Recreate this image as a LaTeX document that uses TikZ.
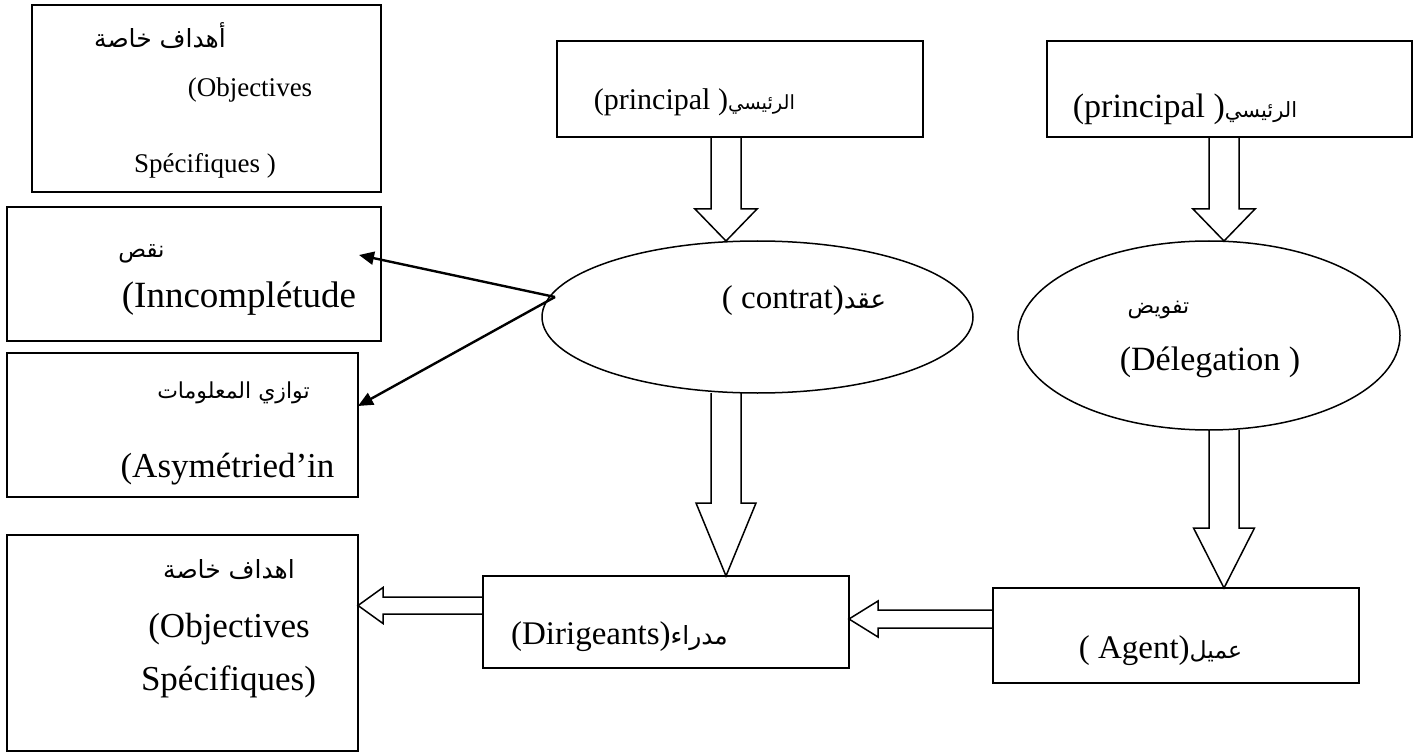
\documentclass[tikz,border=0pt]{standalone}
\usepackage{fontspec}
\setmainfont{Liberation Serif}
\newfontfamily\arabicfont[Script=Arabic]{DejaVu Sans}
\TeXXeTstate=1
\usetikzlibrary{shapes.geometric,arrows.meta,calc}

% font size shortcut
\newcommand\sz[1]{\fontsize{#1}{#1}\selectfont}

% wide hollow arrow: #1 start, #2 tip, #3 shaft half width, #4 head half width, #5 head length
\newcommand\hollowarrow[5]{%
  \coordinate (hb) at ($(#2)!#5!(#1)$);
  \draw[blockline] ($(#1)!#3!90:(#2)$) -- ($(hb)!#3!90:(#2)$) -- ($(hb)!#4!90:(#2)$)
    -- (#2) -- ($(hb)!#4!-90:(#2)$) -- ($(hb)!#3!-90:(#2)$) -- ($(#1)!#3!-90:(#2)$);
}

\begin{document}
\begin{tikzpicture}[x=1pt,y=-1pt,
  box/.style={draw, line width=1.5pt, rectangle, inner sep=0pt, outer sep=0pt},
  oval/.style={draw, line width=1.5pt, ellipse, inner sep=0pt, outer sep=0pt},
  txt/.style={inner sep=0pt, outer sep=0pt, anchor=base},
  blockline/.style={line width=1.5pt},
  thinarrow/.style={line width=2.4pt, -{Triangle[length=15pt,width=13pt]}}]

\useasboundingbox (0,0) rectangle (1419,754);

% boxes and ovals
\node[box, minimum width=349pt, minimum height=187pt] (obj1) at (206.5,98.5) {};
\node[box, minimum width=374pt, minimum height=134pt] (inc) at (194,274) {};
\node[box, minimum width=351pt, minimum height=144pt] (asy) at (182.5,425) {};
\node[box, minimum width=351pt, minimum height=216pt] (obj2) at (182.5,643) {};
\node[box, minimum width=366pt, minimum height=96pt] (p1) at (740,89) {};
\node[box, minimum width=365pt, minimum height=96pt] (p2) at (1229.5,89) {};
\node[oval, minimum width=431pt, minimum height=152pt] (ctr) at (757.5,317) {};
\node[oval, minimum width=382pt, minimum height=189pt] (del) at (1209,335.5) {};
\node[box, minimum width=366pt, minimum height=92pt] (dir) at (666,622) {};
\node[box, minimum width=366pt, minimum height=95pt] (agt) at (1176,635.5) {};

% labels
\node[txt] (o1a) at (160,48) {\arabicfont\sz{25}\beginR أهداف خاصة\endR};
\node[txt] (o1b) at (250,97) {\sz{27}(Objectives};
\node[txt] (o1c) at (205,173) {\sz{27}Spécifiques )};
\node[txt] (ia) at (141.5,258) {\arabicfont\sz{23}\beginR نقص\endR};
\node[txt] (ib) at (239,307) {\sz{37}(Inncomplétude};
\node[txt] (sa) at (233.5,398) {\arabicfont\sz{22}\beginR توازي المعلومات\endR};
\node[txt] (sb) at (227.5,477) {\sz{35}(Asymétried’in};
\node[txt] (o2a) at (229,578) {\arabicfont\sz{25}\beginR اهداف خاصة\endR};
\node[txt] (o2b) at (229,637) {\sz{35}(Objectives};
\node[txt] (o2c) at (228.5,690) {\sz{35}Spécifiques)};
\node[txt] (p1t) at (694.5,110) {\sz{30}(principal ){\arabicfont\sz{19.5}\beginR الرئيسي\endR}};
\node[txt] (p2t) at (1185,118) {\sz{34}(principal ){\arabicfont\sz{21}\beginR الرئيسي\endR}};
\node[txt] (ct) at (804,308) {\sz{33}( contrat){\arabicfont\sz{26}\beginR عقد\endR}};
\node[txt] (da) at (1158.5,313) {\arabicfont\sz{22}\beginR تفويض\endR};
\node[txt] (db) at (1210,370) {\sz{34}(Délegation )};
\node[txt] (dt) at (619.5,644) {\sz{33}(Dirigeants){\arabicfont\sz{25}\beginR مدراء\endR}};
\node[txt] (gt) at (1160.5,658) {\sz{33}( Agent){\arabicfont\sz{23.5}\beginR عميل\endR}};

% anchor points of the wide arrows
\coordinate (a1s) at ($(p1.south)+(-14,0)$);
\coordinate (a1t) at (a1s |- ctr.north);
\coordinate (a2s) at ($(p2.south)+(-5.5,0)$);
\coordinate (a2t) at (a2s |- del.north);
\coordinate (a3s) at (a1s |- ctr.south);
\coordinate (a3t) at (a1s |- dir.north);
\coordinate (a4s) at (a2s |- del.south);
\coordinate (a4t) at (a2s |- agt.north);
\coordinate (a5s) at ($(agt.west)+(0,-16.5)$);
\coordinate (a5t) at (a5s -| dir.east);
\coordinate (a6s) at ($(dir.west)+(0,-16.5)$);
\coordinate (a6t) at (a6s -| obj2.east);

\hollowarrow{a1s}{a1t}{15pt}{31pt}{32pt}
\hollowarrow{a2s}{a2t}{15pt}{31pt}{32pt}
\hollowarrow{a3s}{a3t}{15pt}{30pt}{73pt}
\hollowarrow{a4s}{a4t}{15pt}{30.5pt}{60pt}
\hollowarrow{a5s}{a5t}{9pt}{18pt}{29pt}
\hollowarrow{a6s}{a6t}{8.5pt}{18pt}{25pt}

% thin arrows out of the contract oval
\coordinate (fork) at ($(ctr.west)+(13,-20)$);
\coordinate (t1) at ($(inc.east)+(-22,-19)$);
\coordinate (t2) at ($(asy.east)+(0,-19)$);
\draw[thinarrow] (fork) -- (t1);
\draw[thinarrow] (fork) -- (t2);

\end{tikzpicture}
\end{document}
